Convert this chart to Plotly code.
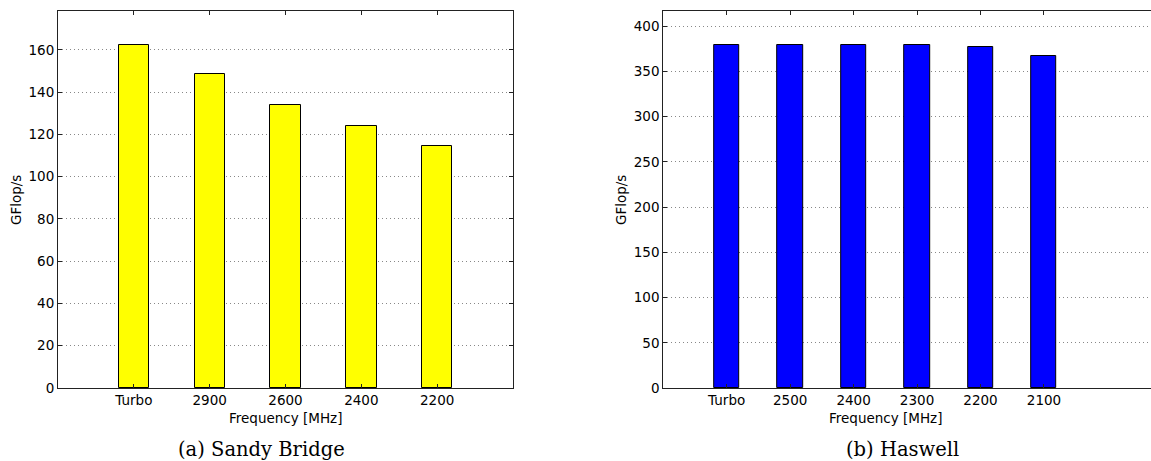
import plotly.graph_objects as go

W, H = 1151, 461

# ---- data ----
sb_categories = ["Turbo", "2900", "2600", "2400", "2200"]
sb_gflops = [162.2, 148.5, 134.0, 124.0, 114.3]

hw_categories = ["Turbo", "2500", "2400", "2300", "2200", "2100"]
hw_gflops = [379.0, 379.0, 379.0, 379.0, 377.2, 366.8]

sb_ylim = [0, 178.4]
sb_yticks = [0, 20, 40, 60, 80, 100, 120, 140, 160]
hw_ylim = [0, 416.9]
hw_yticks = [0, 50, 100, 150, 200, 250, 300, 350, 400]

captions = ["(a) Sandy Bridge", "(b) Haswell"]
xlabel = "Frequency [MHz]"
ylabel = "GFlop/s"

# ---- layout helpers (pixel -> paper) ----
def px(x):
    return x / W

def py(y):
    return 1 - y / H

fig = go.Figure()
fig.add_trace(go.Bar(
    x=sb_categories, y=sb_gflops, width=0.4,
    marker=dict(color="#ffff00", line=dict(color="black", width=1)),
    xaxis="x", yaxis="y", showlegend=False,
))
fig.add_trace(go.Bar(
    x=hw_categories, y=hw_gflops, width=0.4,
    marker=dict(color="#0000ff", line=dict(color="black", width=1)),
    xaxis="x2", yaxis="y2", showlegend=False,
))

tickfont = dict(family="DejaVu Sans", size=13.5, color="black")
common_x = dict(
    type="category", showline=True, linecolor="#222", linewidth=1,
    ticks="inside", ticklen=4, tickcolor="#222", showgrid=False,
    zeroline=False, tickfont=tickfont, automargin=False,
)
common_y = dict(
    showline=True, linecolor="#222", linewidth=1,
    ticks="inside", ticklen=4, tickcolor="#222",
    showgrid=True, gridcolor="#888", griddash="1px,3px", gridwidth=1,
    zeroline=False, tickfont=tickfont, automargin=False,
)

# left axis area: 58..513 px, y 11..388 px
# right axis area: 663..1151 px (cropped on the right)
hw_spacing = 63.46
hw_right = (W - 663.2) / hw_spacing - 1

fig.update_layout(
    width=W, height=H,
    margin=dict(l=0, r=0, t=0, b=0, autoexpand=False),
    plot_bgcolor="white", paper_bgcolor="white",
    xaxis=dict(common_x, domain=[px(58), px(513)], range=[-1, 5],
               mirror="ticks", anchor="y"),
    yaxis=dict(common_y, domain=[py(388), py(11)], range=sb_ylim,
               tickvals=sb_yticks, mirror="ticks", anchor="x"),
    xaxis2=dict(common_x, domain=[px(663.2), 1.0], range=[-1, hw_right],
                mirror="ticks", anchor="y2"),
    yaxis2=dict(common_y, domain=[py(388), py(11)], range=hw_ylim,
                tickvals=hw_yticks, mirror=False, anchor="x2"),
    bargap=0,
)

label_font = dict(family="DejaVu Sans", size=13.5, color="black")
cap_font = dict(family="DejaVu Serif", size=19.5, color="black")
annotations = [
    dict(text=xlabel, x=px(285.5), y=py(418), xref="paper", yref="paper",
         showarrow=False, font=label_font, xanchor="center", yanchor="middle"),
    dict(text=xlabel, x=px(885), y=py(418), xref="paper", yref="paper",
         showarrow=False, font=label_font, xanchor="center", yanchor="middle"),
    dict(text=ylabel, x=px(16), y=py(200), xref="paper", yref="paper",
         showarrow=False, font=label_font, textangle=-90,
         xanchor="center", yanchor="middle"),
    dict(text=ylabel, x=px(621), y=py(200), xref="paper", yref="paper",
         showarrow=False, font=label_font, textangle=-90,
         xanchor="center", yanchor="middle"),
    dict(text=captions[0], x=px(261), y=py(449), xref="paper", yref="paper",
         showarrow=False, font=cap_font, xanchor="center", yanchor="middle"),
    dict(text=captions[1], x=px(902), y=py(449), xref="paper", yref="paper",
         showarrow=False, font=cap_font, xanchor="center", yanchor="middle"),
]
fig.update_layout(annotations=annotations)

fig.write_html(
    "out.html",
    config={"displayModeBar": False},
    post_script="document.body.style.margin='0px';document.body.style.overflow='hidden';",
)
